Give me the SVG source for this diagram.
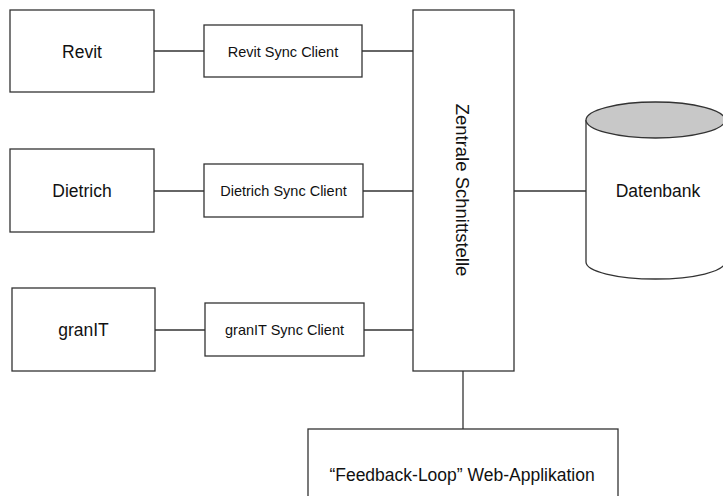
<svg xmlns="http://www.w3.org/2000/svg" width="723" height="496" viewBox="0 0 723 496">
<style>
.box{fill:#fff;stroke:#333;stroke-width:1.3}
.ln{fill:none;stroke:#333;stroke-width:1.3}
.big{font-family:"Liberation Sans",Arial,sans-serif;font-size:17.5px;fill:#111;text-anchor:middle;dominant-baseline:central}
.sm{font-family:"Liberation Sans",Arial,sans-serif;font-size:14.5px;fill:#111;text-anchor:middle;dominant-baseline:central}
</style>
<rect width="723" height="496" fill="#fff"/>
<g id="connectors">
<line class="ln" x1="154" y1="51" x2="204" y2="51"/>
<line class="ln" x1="362" y1="51" x2="413" y2="51"/>
<line class="ln" x1="154" y1="191" x2="204" y2="191"/>
<line class="ln" x1="363" y1="191" x2="413" y2="191"/>
<line class="ln" x1="155" y1="330" x2="205" y2="330"/>
<line class="ln" x1="364" y1="330" x2="413" y2="330"/>
<line class="ln" x1="514" y1="191" x2="586" y2="191"/>
<line class="ln" x1="463" y1="371" x2="463" y2="429"/>
</g>
<g id="revit"><rect class="box" x="10" y="10" width="144" height="82"/><text class="big" x="82" y="52">Revit</text></g>
<g id="revit-sync"><rect class="box" x="204" y="25" width="158" height="52"/><text class="sm" x="283" y="52">Revit Sync Client</text></g>
<g id="dietrich"><rect class="box" x="10" y="149" width="144" height="83"/><text class="big" x="82" y="191">Dietrich</text></g>
<g id="dietrich-sync"><rect class="box" x="204" y="164" width="159" height="53"/><text class="sm" x="283.5" y="191">Dietrich Sync Client</text></g>
<g id="granit"><rect class="box" x="12" y="288" width="143" height="83"/><text class="big" x="83.5" y="330">granIT</text></g>
<g id="granit-sync"><rect class="box" x="205" y="303" width="159" height="53"/><text class="sm" x="284.5" y="330">granIT Sync Client</text></g>
<g id="zentrale"><rect class="box" x="413" y="10" width="101" height="361"/><text class="big" x="0" y="0" transform="translate(462,190) rotate(90)" style="font-size:18.5px">Zentrale Schnittstelle</text></g>
<g id="datenbank">
<path class="box" d="M586,120 L586,262 A69.5,17 0 0 0 725,262 L725,120"/>
<ellipse cx="655.5" cy="120" rx="69.5" ry="18" fill="#c8c8c8" stroke="#333" stroke-width="1.3"/>
<text class="big" x="658" y="191">Datenbank</text>
</g>
<g id="feedback"><rect class="box" x="308" y="429" width="310" height="80"/><text class="big" x="462" y="475">“Feedback-Loop” Web-Applikation</text></g>
</svg>
